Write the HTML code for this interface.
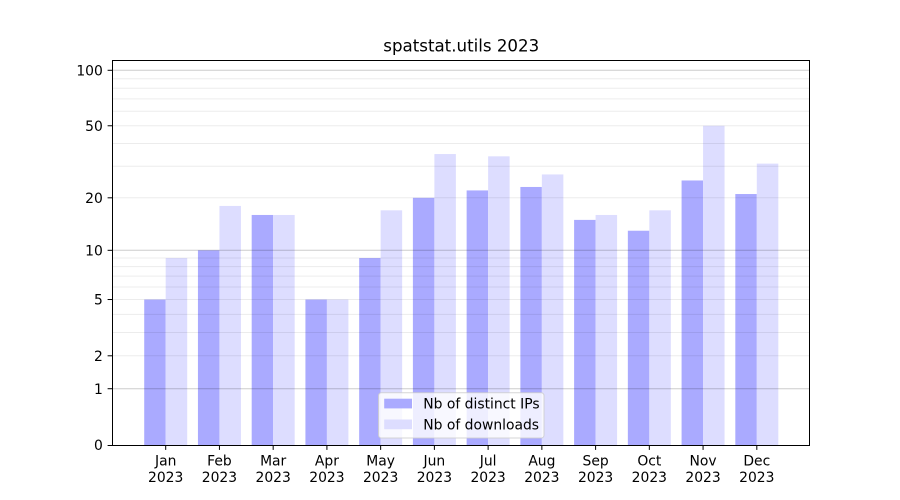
<!DOCTYPE html>
<html><head><meta charset="utf-8"><style>
html,body{margin:0;padding:0;background:#fff;}
svg{display:block;}
text{font-family:"DejaVu Sans","Liberation Sans",sans-serif;fill:#000;}
</style></head><body>
<svg width="900" height="500" viewBox="0 0 900 500" xmlns="http://www.w3.org/2000/svg">
<rect x="0" y="0" width="900" height="500" fill="#fff"/>
<!-- bars -->
<g>
<rect x="144.21" y="299.52" width="21.49" height="145.48" fill="#aaaaff"/>
<rect x="165.70" y="258.05" width="21.49" height="186.95" fill="#ddddff"/>
<rect x="197.95" y="250.31" width="21.49" height="194.69" fill="#aaaaff"/>
<rect x="219.44" y="205.94" width="21.49" height="239.06" fill="#ddddff"/>
<rect x="251.68" y="214.97" width="21.49" height="230.03" fill="#aaaaff"/>
<rect x="273.17" y="214.97" width="21.49" height="230.03" fill="#ddddff"/>
<rect x="305.42" y="299.52" width="21.49" height="145.48" fill="#aaaaff"/>
<rect x="326.91" y="299.52" width="21.49" height="145.48" fill="#ddddff"/>
<rect x="359.16" y="258.05" width="21.49" height="186.95" fill="#aaaaff"/>
<rect x="380.65" y="210.33" width="21.49" height="234.67" fill="#ddddff"/>
<rect x="412.90" y="197.81" width="21.49" height="247.19" fill="#aaaaff"/>
<rect x="434.39" y="154.05" width="21.49" height="290.95" fill="#ddddff"/>
<rect x="466.63" y="190.42" width="21.49" height="254.58" fill="#aaaaff"/>
<rect x="488.12" y="156.34" width="21.49" height="288.66" fill="#ddddff"/>
<rect x="520.37" y="186.97" width="21.49" height="258.03" fill="#aaaaff"/>
<rect x="541.86" y="174.45" width="21.49" height="270.55" fill="#ddddff"/>
<rect x="574.11" y="219.89" width="21.49" height="225.11" fill="#aaaaff"/>
<rect x="595.60" y="214.97" width="21.49" height="230.03" fill="#ddddff"/>
<rect x="627.84" y="230.73" width="21.49" height="214.27" fill="#aaaaff"/>
<rect x="649.33" y="210.33" width="21.49" height="234.67" fill="#ddddff"/>
<rect x="681.58" y="180.47" width="21.49" height="264.53" fill="#aaaaff"/>
<rect x="703.07" y="125.77" width="21.49" height="319.23" fill="#ddddff"/>
<rect x="735.32" y="194.03" width="21.49" height="250.97" fill="#aaaaff"/>
<rect x="756.81" y="163.61" width="21.49" height="281.39" fill="#ddddff"/>
</g>
<!-- minor grid -->
<g stroke="rgba(0,0,0,0.075)" stroke-width="1">
<line x1="112.5" x2="810" y1="355.8" y2="355.8"/>
<line x1="112.5" x2="810" y1="332.44" y2="332.44"/>
<line x1="112.5" x2="810" y1="314.33" y2="314.33"/>
<line x1="112.5" x2="810" y1="299.52" y2="299.52"/>
<line x1="112.5" x2="810" y1="287.01" y2="287.01"/>
<line x1="112.5" x2="810" y1="276.17" y2="276.17"/>
<line x1="112.5" x2="810" y1="266.6" y2="266.6"/>
<line x1="112.5" x2="810" y1="258.05" y2="258.05"/>
<line x1="112.5" x2="810" y1="197.81" y2="197.81"/>
<line x1="112.5" x2="810" y1="166.19" y2="166.19"/>
<line x1="112.5" x2="810" y1="143.49" y2="143.49"/>
<line x1="112.5" x2="810" y1="125.77" y2="125.77"/>
<line x1="112.5" x2="810" y1="111.23" y2="111.23"/>
<line x1="112.5" x2="810" y1="98.91" y2="98.91"/>
<line x1="112.5" x2="810" y1="88.21" y2="88.21"/>
<line x1="112.5" x2="810" y1="78.76" y2="78.76"/>
</g>
<!-- major grid -->
<g stroke="rgba(0,0,0,0.2)" stroke-width="1">
<line x1="112.5" x2="810" y1="388.72" y2="388.72"/>
<line x1="112.5" x2="810" y1="250.31" y2="250.31"/>
<line x1="112.5" x2="810" y1="70.29" y2="70.29"/>
</g>
<!-- axes frame -->
<g stroke="#000" stroke-width="1">
<line x1="112.5" x2="112.5" y1="60" y2="446"/>
<line x1="809.5" x2="809.5" y1="60" y2="446"/>
<line x1="112" x2="810" y1="60.5" y2="60.5"/>
<line x1="112" x2="810" y1="445.5" y2="445.5"/>
</g>
<!-- y ticks -->
<g stroke="#000" stroke-width="1">
<line x1="107.6" x2="112.5" y1="445.5" y2="445.5"/>
<line x1="107.6" x2="112.5" y1="388.72" y2="388.72"/>
<line x1="107.6" x2="112.5" y1="355.8" y2="355.8"/>
<line x1="107.6" x2="112.5" y1="299.52" y2="299.52"/>
<line x1="107.6" x2="112.5" y1="250.31" y2="250.31"/>
<line x1="107.6" x2="112.5" y1="197.81" y2="197.81"/>
<line x1="107.6" x2="112.5" y1="125.77" y2="125.77"/>
<line x1="107.6" x2="112.5" y1="70.29" y2="70.29"/>
</g>
<g font-size="13.89" text-anchor="end">
<text x="102.8" y="450">0</text>
<text x="102.8" y="393.8">1</text>
<text x="102.8" y="360.9">2</text>
<text x="102.8" y="304.6">5</text>
<text x="102.8" y="255.4">10</text>
<text x="102.8" y="202.9">20</text>
<text x="102.8" y="130.8">50</text>
<text x="102.8" y="75.3">100</text>
</g>
<!-- x ticks -->
<g stroke="#000" stroke-width="1">
<line x1="165.70" x2="165.70" y1="445" y2="449.9"/>
<line x1="219.44" x2="219.44" y1="445" y2="449.9"/>
<line x1="273.17" x2="273.17" y1="445" y2="449.9"/>
<line x1="326.91" x2="326.91" y1="445" y2="449.9"/>
<line x1="380.65" x2="380.65" y1="445" y2="449.9"/>
<line x1="434.39" x2="434.39" y1="445" y2="449.9"/>
<line x1="488.12" x2="488.12" y1="445" y2="449.9"/>
<line x1="541.86" x2="541.86" y1="445" y2="449.9"/>
<line x1="595.60" x2="595.60" y1="445" y2="449.9"/>
<line x1="649.33" x2="649.33" y1="445" y2="449.9"/>
<line x1="703.07" x2="703.07" y1="445" y2="449.9"/>
<line x1="756.81" x2="756.81" y1="445" y2="449.9"/>
</g>
<g font-size="13.89" text-anchor="middle">
<text x="165.70" y="465.3">Jan</text><text x="165.70" y="481.8">2023</text>
<text x="219.44" y="465.3">Feb</text><text x="219.44" y="481.8">2023</text>
<text x="273.17" y="465.3">Mar</text><text x="273.17" y="481.8">2023</text>
<text x="326.91" y="465.3">Apr</text><text x="326.91" y="481.8">2023</text>
<text x="380.65" y="465.3">May</text><text x="380.65" y="481.8">2023</text>
<text x="434.39" y="465.3">Jun</text><text x="434.39" y="481.8">2023</text>
<text x="488.12" y="465.3">Jul</text><text x="488.12" y="481.8">2023</text>
<text x="541.86" y="465.3">Aug</text><text x="541.86" y="481.8">2023</text>
<text x="595.60" y="465.3">Sep</text><text x="595.60" y="481.8">2023</text>
<text x="649.33" y="465.3">Oct</text><text x="649.33" y="481.8">2023</text>
<text x="703.07" y="465.3">Nov</text><text x="703.07" y="481.8">2023</text>
<text x="756.81" y="465.3">Dec</text><text x="756.81" y="481.8">2023</text>
</g>
<!-- legend -->
<rect x="378.5" y="392.8" width="165.5" height="45.2" rx="2.8" ry="2.8" fill="rgba(255,255,255,0.8)" stroke="rgba(204,204,204,0.8)" stroke-width="1"/>
<rect x="384.2" y="398.7" width="27.8" height="9.7" fill="#aaaaff"/>
<rect x="384.2" y="419.5" width="27.8" height="9.7" fill="#ddddff"/>
<g font-size="13.89">
<text x="423.3" y="408.6">Nb of distinct IPs</text>
<text x="423.3" y="429.4">Nb of downloads</text>
</g>
<!-- title -->
<text x="461.25" y="51.5" font-size="16.67" text-anchor="middle">spatstat.utils 2023</text>
</svg>
</body></html>
